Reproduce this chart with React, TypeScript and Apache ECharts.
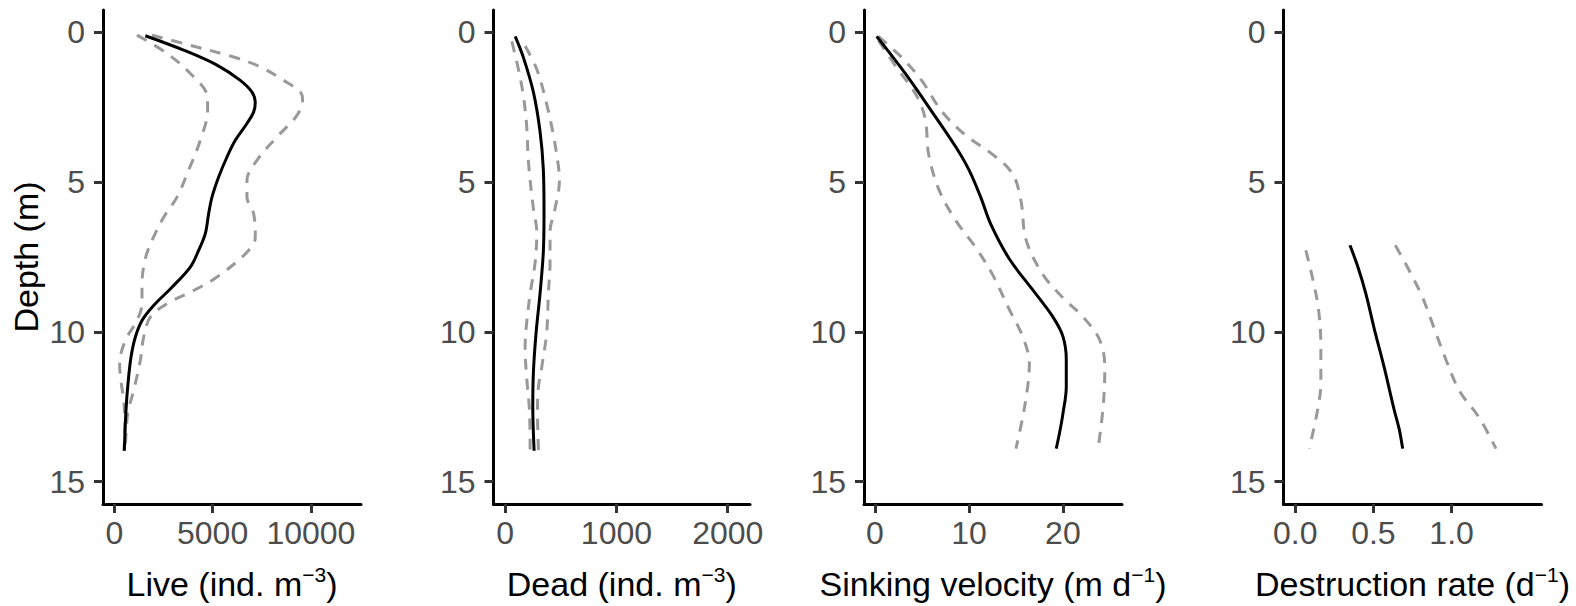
import React, { useEffect, useRef } from "react";
import * as echarts from "echarts";

// ---- data: [value, depth (m)] ----
const liveMean = [[1577,0.11],[3525,0.59],[5223,1.09],[6408,1.6],[7003,1.99],[7171,2.32],[7086,2.66],[6747,3.04],[6154,3.6],[5731,4.16],[5307,4.83],[4969,5.5],[4799,6.05],[4628,6.72],[4289,7.28],[3865,7.84],[2933,8.51],[2000,9.12],[1409,9.62],[1068,10.18],[848,10.85],[695,11.74],[593,12.63],[509,13.97]];
const liveUpper = [[1916,0.09],[3525,0.37],[6069,0.82],[7425,1.15],[8612,1.6],[9460,1.99],[9577,2.26],[9290,2.77],[8273,3.49],[7256,4.27],[6747,4.94],[6747,5.5],[7086,6.05],[7171,6.84],[6747,7.34],[5223,8.17],[4035,8.62],[2680,9.06],[1831,9.51],[1492,10.18],[1322,10.96],[983,11.96],[678,12.74],[560,13.97]];
const liveLower = [[1153,0.09],[2680,0.7],[3865,1.37],[4714,2.1],[4748,2.6],[4374,3.6],[3780,4.6],[3189,5.5],[2510,6.17],[1916,6.95],[1577,7.56],[1409,8.39],[1409,9.06],[1153,9.62],[560,10.29],[270,11.07],[330,11.6],[480,12.3],[540,13.0],[500,13.97]];

const deadMean = [[90,0.13],[164,0.84],[254,2.0],[313,3.3],[343,4.59],[349,6.01],[343,7.31],[313,8.73],[278,10.02],[254,11.31],[248,12.48],[260,13.97]];
const deadUpper = [[179,0.45],[284,1.23],[373,2.39],[433,3.43],[478,4.46],[487,4.98],[448,5.88],[403,6.66],[403,7.69],[388,8.73],[373,10.02],[328,11.19],[299,11.83],[290,12.61],[299,13.97]];
const deadLower = [[60,0.3],[119,1.23],[164,2.13],[194,3.17],[209,4.33],[254,5.9],[284,6.66],[269,7.69],[224,8.73],[188,9.89],[179,10.54],[194,11.57],[218,12.61],[224,13.97]];

const sinkMean = [[0.18,0.13],[3.2,1.36],[6.07,2.65],[8.57,3.81],[10,4.59],[11.25,5.5],[12.32,6.4],[14.29,7.56],[16.79,8.6],[18.93,9.5],[20,10.15],[20.36,10.93],[20.36,11.83],[20,12.74],[19.64,13.38],[19.29,13.9]];
const sinkUpper = [[0.36,0.13],[2.86,0.84],[5,1.62],[7.14,2.65],[9.64,3.43],[12.5,4.07],[14.64,4.72],[15.54,5.63],[16.07,6.92],[17.86,8.08],[20,8.86],[22.14,9.5],[23.93,10.28],[24.46,11.19],[24.29,12.48],[23.75,13.9]];
const sinkLower = [[0.36,0.26],[2.14,1.1],[4.46,2.13],[5.36,2.91],[5.71,4.07],[6.79,5.24],[8.57,6.27],[10.71,7.18],[12.5,8.08],[14.29,9.25],[15.71,10.15],[16.43,11.06],[16.25,11.83],[15.71,12.87],[15,13.9]];

const destMean = [[0.35,7.11],[0.4,7.82],[0.452,8.73],[0.505,9.89],[0.569,11.19],[0.633,12.61],[0.665,13.25],[0.687,13.9]];
const destUpper = [[0.64,7.11],[0.729,7.95],[0.815,8.86],[0.889,9.89],[0.964,10.93],[1.049,11.96],[1.177,12.87],[1.284,13.9]];
const destLower = [[0.068,7.28],[0.111,8.21],[0.149,9.25],[0.164,10.54],[0.164,11.7],[0.143,12.61],[0.09,13.9]];

const depthTicks = [0, 5, 10, 15];
const liveTicks = [0, 5000, 10000];
const deadTicks = [0, 1000, 2000];
const sinkTicks = [0, 10, 20];
const destTicks = [0, 0.5, 1.0];

const titles = [
  "Live (ind. m{sup|−3})",
  "Dead (ind. m{sup|−3})",
  "Sinking velocity (m d{sup|−1})",
  "Destruction rate (d{sup|−1})",
];

const FONT = '"Liberation Sans", Arial, Helvetica, sans-serif';

export default function App() {
  const ref = useRef<HTMLDivElement>(null);
  useEffect(() => {
    if (!ref.current) return;
    const chart = echarts.init(ref.current, null, { renderer: "svg" });

    const grids = [
      { left: 103, top: 10, width: 258, height: 494 },
      { left: 493.5, top: 10, width: 256.5, height: 494 },
      { left: 864, top: 10, width: 258, height: 494 },
      { left: 1283.5, top: 10, width: 258, height: 494 },
    ];
    const xr = [
      { min: -575, max: 12548, ticks: liveTicks, fmt: (v: number) => String(v) },
      { min: -105, max: 2200, ticks: deadTicks, fmt: (v: number) => String(v) },
      { min: -1.17, max: 26.29, ticks: sinkTicks, fmt: (v: number) => String(v) },
      { min: -0.075, max: 1.575, ticks: destTicks, fmt: (v: number) => v.toFixed(1) },
    ];
    const panels = [
      [liveMean, liveUpper, liveLower],
      [deadMean, deadUpper, deadLower],
      [sinkMean, sinkUpper, sinkLower],
      [destMean, destUpper, destLower],
    ];

    const axisLine = { show: true, onZero: false, lineStyle: { color: "#000", width: 3 } };
    const axisTick = (vals: number[]) => ({ show: true, length: 9, lineStyle: { color: "#333", width: 3 }, customValues: vals });

    const xAxis = xr.map((a, i) => ({
      type: "value",
      gridIndex: i,
      min: a.min,
      max: a.max,
      splitLine: { show: false },
      axisLine,
      axisTick: axisTick(a.ticks),
      axisLabel: {
        customValues: a.ticks,
        formatter: a.fmt,
        color: "#4D4D4D",
        fontSize: 32,
        fontFamily: FONT,
        margin: 13,
        showMinLabel: true,
        showMaxLabel: true,
      },
      name: titles[i],
      nameLocation: "middle",
      nameGap: 60,
      nameTextStyle: {
        color: "#000",
        fontSize: 34,
        fontFamily: FONT,
        rich: {
          sup: { fontSize: 21, fontFamily: FONT, color: "#000", padding: [0, 0, 18, 0] },
        },
      },
    }));

    const yAxis = grids.map((_, i) => ({
      type: "value",
      gridIndex: i,
      inverse: true,
      min: -0.75,
      max: 15.75,
      splitLine: { show: false },
      axisLine,
      axisTick: axisTick(depthTicks),
      axisLabel: {
        customValues: depthTicks,
        color: "#4D4D4D",
        fontSize: 32,
        fontFamily: FONT,
        margin: 18,
      },
      name: i === 0 ? "Depth (m)" : "",
      nameLocation: "middle",
      nameRotate: 90,
      nameGap: 60,
      nameTextStyle: { color: "#000", fontSize: 34, fontFamily: FONT },
    }));

    const series: any[] = [];
    panels.forEach((p, i) => {
      const [mean, upper, lower] = p;
      [upper, lower].forEach((d) => {
        series.push({
          type: "line",
          xAxisIndex: i,
          yAxisIndex: i,
          data: d,
          showSymbol: false,
          smooth: 0.35,
          lineStyle: { color: "#999999", width: 3, type: [11, 9] },
          silent: true,
        });
      });
      series.push({
        type: "line",
        xAxisIndex: i,
        yAxisIndex: i,
        data: mean,
        showSymbol: false,
        smooth: 0.35,
        lineStyle: { color: "#000", width: 3 },
        silent: true,
      });
    });

    chart.setOption({
      animation: false,
      backgroundColor: "#fff",
      grid: grids,
      xAxis,
      yAxis,
      series,
    });
    return () => chart.dispose();
  }, []);

  return (
    <div
      ref={ref}
      style={{ position: "fixed", left: 0, top: 0, width: 1576, height: 606, background: "#fff" }}
    />
  );
}
